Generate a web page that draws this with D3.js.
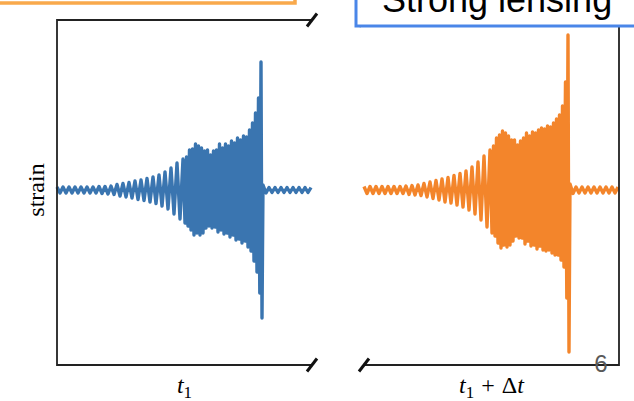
<!DOCTYPE html>
<html>
<head>
<meta charset="utf-8">
<script src="https://cdn.jsdelivr.net/npm/d3@7"></script>
<style>
  body { margin: 0; background: #fff; }
  svg { display: block; }
</style>
</head>
<body>
<svg id="chart"></svg>
<script>
// times of the waveform peaks, ms relative to merger (both images share them)
var peakTimes = [
  -205, -202, -199, -196, -193, -190, -187, -184, -181, -178,
  -175, -172, -169, -166, -163, -160, -157, -154, -151, -148,
  -145, -142, -139, -136, -133, -130, -127, -124, -121, -118,
  -115, -112, -109, -106, -103, -100, -97, -94, -91, -88,
  -85, -82, -79, -77, -75.5, -74, -72.5, -71, -69.5, -68,
  -66.5, -65, -63.5, -62, -60.5, -59, -57.5, -56, -54.5, -53,
  -51.5, -50, -48.5, -47, -45.5, -44, -42.5, -41, -39.5, -38,
  -36.5, -35, -33.5, -32, -30.5, -29, -27.5, -26, -24.5, -23,
  -21.5, -20, -18.5, -17, -15.5, -14, -12.5, -11, -9.5, -8,
  -6.5, -5, -3.5, -2.2, -1, 0, 1, 4, 7, 10,
  13, 16, 19, 22, 25, 28, 31, 34, 37, 40,
  43, 46, 49
];

// strain at those peaks, first image (t1)
var strainImage1 = [
  0.03, -0.03, 0.03, -0.03, 0.03, -0.03, 0.03, -0.03, 0.03, -0.03,
  0.03, -0.03, 0.03, -0.03, 0.035, -0.035, 0.035, -0.04, 0.04, -0.045,
  0.055, -0.06, 0.065, -0.07, 0.075, -0.08, 0.09, -0.095, 0.10, -0.105,
  0.115, -0.12, 0.13, -0.135, 0.15, -0.16, 0.18, -0.19, 0.22, -0.24,
  0.27, -0.29, 0.31, -0.33, 0.33, -0.36, 0.40, -0.40, 0.41, -0.45,
  0.46, -0.43, 0.44, -0.45, 0.42, -0.43, 0.39, -0.38, 0.40, -0.36,
  0.35, -0.38, 0.39, -0.37, 0.40, -0.42, 0.46, -0.40, 0.42, -0.44,
  0.46, -0.43, 0.44, -0.47, 0.49, -0.45, 0.47, -0.50, 0.52, -0.49,
  0.50, -0.53, 0.54, -0.51, 0.53, -0.57, 0.60, -0.61, 0.67, -0.71,
  0.77, -0.82, 0.92, -1.03, 1.28, -1.28, 0.05, -0.03, 0.025, -0.025,
  0.025, -0.025, 0.025, -0.025, 0.025, -0.025, 0.025, -0.025, 0.025, -0.025,
  0.025, -0.025, 0.025
];

// strain at those peaks, lensed image (t1 + dt)
var strainImage2 = [
  0.035, -0.035, 0.035, -0.035, 0.035, -0.035, 0.035, -0.035, 0.035, -0.035,
  0.035, -0.035, 0.035, -0.035, 0.04, -0.045, 0.045, -0.05, 0.05, -0.055,
  0.065, -0.07, 0.08, -0.085, 0.095, -0.10, 0.11, -0.12, 0.125, -0.13,
  0.145, -0.15, 0.165, -0.17, 0.19, -0.20, 0.23, -0.24, 0.28, -0.30,
  0.34, -0.37, 0.40, -0.43, 0.44, -0.46, 0.52, -0.53, 0.55, -0.58,
  0.59, -0.55, 0.57, -0.57, 0.54, -0.55, 0.50, -0.51, 0.50, -0.46,
  0.45, -0.48, 0.49, -0.48, 0.52, -0.54, 0.57, -0.51, 0.54, -0.56,
  0.58, -0.55, 0.57, -0.59, 0.60, -0.56, 0.62, -0.60, 0.61, -0.61,
  0.64, -0.60, 0.63, -0.63, 0.67, -0.65, 0.71, -0.65, 0.75, -0.70,
  0.84, -0.77, 1.08, -1.08, 1.55, -1.62, 0.06, -0.035, 0.03, -0.03,
  0.03, -0.03, 0.03, -0.03, 0.03, -0.03, 0.03, -0.03, 0.03, -0.03,
  0.03, -0.03, 0.03
];

var timeDomain = [-205, 50];
var strainDomain = [-1.75, 1.70];

var svg = d3.select("#chart")
  .attr("width", 634)
  .attr("height", 401);

var yscale = d3.scaleLinear().domain(strainDomain).range([365, 20]);

var panels = [
  { left: 57, right: 312, values: strainImage1, color: "#3a75b0" },
  { left: 364, right: 619, values: strainImage2, color: "#f3852b" }
];

panels.forEach(function (p, k) {
  var xscale = d3.scaleLinear().domain(timeDomain).range([p.left, p.right]);
  var top = yscale.range()[1], bottom = yscale.range()[0];

  var line = d3.line()
    .x(function (d) { return xscale(d[0]); })
    .y(function (d) { return yscale(d[1]); });

  svg.append("path")
    .datum(d3.zip(peakTimes, p.values))
    .attr("d", line)
    .attr("fill", "none")
    .attr("stroke", p.color)
    .attr("stroke-width", 3.4)
    .attr("stroke-linejoin", "round");

  // spines, broken between the two panels
  var spine = k == 0
    ? "M" + p.right + "," + top + "H" + p.left + "V" + bottom + "H" + p.right
    : "M" + p.left + "," + bottom + "H" + p.right + "V" + top + "H" + p.left;
  svg.append("path")
    .attr("d", spine)
    .attr("fill", "none")
    .attr("stroke", "#222")
    .attr("stroke-width", 1.8);

  var breakX = k == 0 ? p.right : p.left;
  [top, bottom].forEach(function (y) {
    svg.append("line")
      .attr("x1", breakX - 5).attr("y1", y + 6.5)
      .attr("x2", breakX + 5).attr("y2", y - 6.5)
      .attr("stroke", "#111")
      .attr("stroke-width", 3);
  });

  // x label
  var lab = svg.append("text")
    .attr("x", (p.left + p.right) / 2)
    .attr("y", 393)
    .attr("text-anchor", "middle")
    .style("font-family", "'Liberation Serif', serif")
    .style("font-size", "24px");
  lab.append("tspan").style("font-style", "italic").text("t");
  lab.append("tspan").attr("dy", 5).style("font-size", "17px").text("1");
  if (k == 1) {
    lab.append("tspan").attr("dy", -5).attr("dx", 7).text("+");
    lab.append("tspan").attr("dx", 7).text("Δ");
    lab.append("tspan").style("font-style", "italic").text("t");
  }
});

// y label
svg.append("text")
  .attr("transform", "translate(36,190) rotate(-90)")
  .attr("text-anchor", "middle")
  .attr("dominant-baseline", "central")
  .style("font-family", "'Liberation Serif', serif")
  .style("font-size", "24px")
  .text("strain");

// slide boxes on top
svg.append("rect")
  .attr("x", -10).attr("y", -50)
  .attr("width", 305).attr("height", 53)
  .attr("fill", "#fff")
  .attr("stroke", "#f9a94b")
  .attr("stroke-width", 3.5);

svg.append("rect")
  .attr("x", 356).attr("y", -50)
  .attr("width", 400).attr("height", 76)
  .attr("fill", "#fff")
  .attr("stroke", "#4a86e8")
  .attr("stroke-width", 3);

svg.append("text")
  .attr("x", 382)
  .attr("y", 12)
  .style("font-family", "'Liberation Sans', Arial, sans-serif")
  .style("font-size", "36px")
  .attr("fill", "#000")
  .text("Strong lensing");

// page number
svg.append("text")
  .attr("x", 601)
  .attr("y", 372)
  .attr("text-anchor", "middle")
  .style("font-family", "'Liberation Sans', Arial, sans-serif")
  .style("font-size", "24px")
  .attr("fill", "#595959")
  .text("6");
</script>
</body>
</html>
